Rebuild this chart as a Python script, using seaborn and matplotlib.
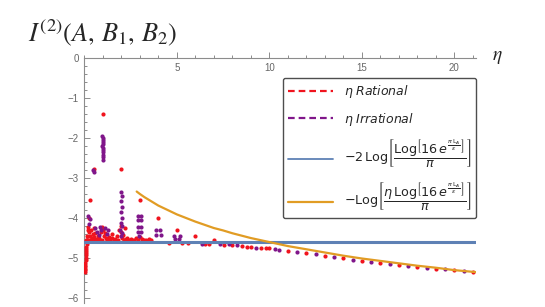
import numpy as np
import pandas as pd
import matplotlib
matplotlib.use("Agg")
import matplotlib.pyplot as plt
import seaborn as sns
from matplotlib.lines import Line2D
from matplotlib.ticker import MultipleLocator

# ---------------- data ----------------
rational_eta = [
    1.0, 0.5, 2.0, 0.33, 3.0, 0.25, 4.0, 0.2, 5.0, 0.167, 6.0, 0.143, 7.0,
    0.125, 0.111, 0.1, 0.091, 0.083, 0.077, 0.071, 0.067, 0.0625, 0.059, 0.056, 0.053, 0.05, 0.048,
    0.2, 0.25, 0.3, 0.35, 0.4, 0.45, 0.5, 0.55, 0.6, 0.67, 0.75, 0.8, 0.9, 0.95, 1.0, 1.05,
    1.1, 1.15, 1.25, 1.33, 1.5, 1.5, 1.67, 1.75, 1.9, 2.0, 2.0, 2.05, 2.1, 2.2, 2.25, 2.33,
    2.5, 2.67, 2.8, 3.0, 3.1, 3.33, 3.5,
    0.08, 0.15, 0.22, 0.3, 0.38, 0.45, 0.55, 0.62, 0.7, 0.85, 0.95, 1.2, 1.4, 1.6, 1.8,
    2.15, 2.4, 2.6, 2.9, 3.2, 3.6,
    4.6, 5.3, 5.6, 6.5, 6.75, 7.56, 8.0, 8.5, 8.8, 9.0, 9.55, 9.8, 10.0,
    11.0, 12.0, 13.0, 14.0, 15.0, 16.0, 17.0, 18.0, 19.0, 20.0, 21.0,
]
rational_val = [
    -1.40, -2.78, -2.78, -3.55, -3.55, -4.00, -4.00, -4.29, -4.29, -4.45, -4.45, -4.56, -4.56,
    -4.66, -4.72, -4.77, -4.82, -4.87, -4.92, -4.99, -5.05, -5.11, -5.17, -5.22, -5.26, -5.30, -5.34,
    -4.22, -4.35, -4.45, -4.30, -4.50, -4.40, -4.25, -4.48, -4.38, -4.52, -4.45, -4.50, -4.35, -4.22, -4.30, -4.45,
    -4.38, -4.50, -4.52, -4.48, -4.40, -4.50, -4.52, -4.45, -4.30, -4.20, -4.35, -4.50, -4.42, -4.25, -4.52, -4.50,
    -4.52, -4.54, -4.50, -4.47, -4.52, -4.54, -4.53,
    -4.55, -4.55, -4.55, -4.55, -4.55, -4.55, -4.55, -4.55, -4.55, -4.55, -4.55, -4.55, -4.55, -4.55, -4.55,
    -4.55, -4.55, -4.55, -4.55, -4.55, -4.56,
    -4.62, -4.62, -4.62, -4.64, -4.64, -4.67, -4.67, -4.71, -4.72, -4.72, -4.75, -4.76, -4.76,
    -4.82, -4.88, -4.94, -4.99, -5.07, -5.13, -5.17, -5.22, -5.26, -5.30, -5.34,
]
irrational_eta = [
    0.98, 1.0, 1.02, 0.99, 1.01, 0.98, 1.02, 1.0, 0.99, 1.01, 1.0, 1.02,
    0.47, 0.52,
    1.96, 2.02, 1.96, 2.02, 1.96, 2.02, 1.96, 2.02, 1.95, 2.05, 2.0,
    0.22, 0.3, 0.27,
    0.6, 0.7, 0.85, 0.9, 1.1, 1.2, 0.8, 1.3,
    2.88, 3.08, 2.88, 3.08, 2.88, 3.08, 2.88, 3.08, 2.95,
    3.88, 4.1, 3.9, 4.12,
    4.85, 5.15, 4.9, 5.1,
    6.35, 7.33, 7.82, 8.24, 9.28, 10.3, 10.5,
    11.5, 12.5, 13.5, 14.5, 15.5, 16.5, 17.5, 18.5, 19.5, 20.5,
]
irrational_val = [
    -1.95, -2.00, -2.05, -2.10, -2.15, -2.20, -2.25, -2.30, -2.36, -2.42, -2.48, -2.56,
    -2.80, -2.86,
    -3.34, -3.45, -3.58, -3.73, -3.85, -4.00, -4.12, -4.19, -4.30, -4.38, -4.45,
    -3.95, -4.03, -4.15,
    -4.25, -4.35, -4.22, -4.30, -4.25, -4.40, -4.42, -4.30,
    -3.94, -3.94, -4.06, -4.06, -4.23, -4.23, -4.35, -4.35, -4.45,
    -4.31, -4.31, -4.42, -4.42,
    -4.44, -4.44, -4.52, -4.52,
    -4.64, -4.65, -4.66, -4.67, -4.74, -4.78, -4.80,
    -4.86, -4.91, -4.98, -5.05, -5.10, -5.15, -5.19, -5.24, -5.28, -5.32,
]
blue_eta = [0.0, 21.17]
blue_val = [-4.60, -4.60]
orange_eta = [2.83, 3.0, 3.25, 3.5, 3.75, 4.0, 4.5, 5.0, 5.5, 6.0, 6.5, 7.0, 7.5, 8.0, 9.0,
              10.0, 11.0, 12.0, 13.0, 14.0, 15.0, 16.0, 17.0, 18.0, 19.0, 20.0, 21.17]
orange_val = [-3.34, -3.40, -3.48, -3.55, -3.62, -3.69, -3.80, -3.91, -4.00, -4.09, -4.17, -4.25,
              -4.31, -4.38, -4.50, -4.60, -4.70, -4.78, -4.86, -4.94, -5.01, -5.07, -5.13, -5.19,
              -5.24, -5.30, -5.35]
x_ticks = [5, 10, 15, 20]
y_ticks = [0, -1, -2, -3, -4, -5, -6]

RED = "#F0141E"
PURPLE = "#80168A"
BLUE = "#5E81B5"
ORANGE = "#E19C24"
GRAY = "#8C8C8C"

sns.set_theme(style="white")
plt.rcParams["font.family"] = ["Liberation Sans", "DejaVu Sans"]

fig = plt.figure(figsize=(5.45, 3.07), dpi=100)
ax = fig.add_axes([0.1547, 0.013, 0.7187, 0.7994])

df_r = pd.DataFrame({"eta": rational_eta, "val": rational_val})
df_i = pd.DataFrame({"eta": irrational_eta, "val": irrational_val})
sns.scatterplot(data=df_r, x="eta", y="val", color=RED, s=9, linewidth=0, ax=ax, zorder=3)
sns.scatterplot(data=df_i, x="eta", y="val", color=PURPLE, s=9, linewidth=0, ax=ax, zorder=3)
df_b = pd.DataFrame({"eta": blue_eta, "val": blue_val})
df_o = pd.DataFrame({"eta": orange_eta, "val": orange_val})
sns.lineplot(data=df_b, x="eta", y="val", color=BLUE, lw=2.2, ax=ax, zorder=4)
sns.lineplot(data=df_o, x="eta", y="val", color=ORANGE, lw=1.6, ax=ax, zorder=4)

ax.set_xlim(0, 21.17)
ax.set_ylim(-6.12, 0)
ax.set_xlabel("")
ax.set_ylabel("")
for s in ["bottom", "right"]:
    ax.spines[s].set_visible(False)
for s in ["top", "left"]:
    ax.spines[s].set_color(GRAY)
    ax.spines[s].set_linewidth(0.8)

ax.set_xticks(x_ticks)
ax.set_xticklabels([str(t) for t in x_ticks])
ax.xaxis.set_minor_locator(MultipleLocator(1))
ax.set_yticks(y_ticks)
ax.set_yticklabels(["0"] + ["\u2212%d" % (-t) for t in y_ticks[1:]])
ax.yaxis.set_minor_locator(MultipleLocator(0.2))
ax.tick_params(axis="x", which="both", top=True, bottom=False, labeltop=True,
               labelbottom=False, direction="out", color=GRAY, width=0.7,
               labelcolor="#666666", labelsize=7, pad=-15)
ax.tick_params(axis="x", which="major", length=4)
ax.tick_params(axis="x", which="minor", length=2.2)
ax.tick_params(axis="y", which="both", left=True, direction="in", color=GRAY,
               width=0.7, labelcolor="#666666", labelsize=7, pad=4)
ax.tick_params(axis="y", which="major", length=4)
ax.tick_params(axis="y", which="minor", length=2.2)
ax.grid(False)

# legend
blue_label = (r"$-2\,\mathrm{Log}\left[\dfrac{\mathrm{Log}\left[16\,e^{\frac{\pi\,\mathrm{L}_A}{\epsilon}}\right]}"
              r"{\pi}\right]$")
orange_label = (r"$-\mathrm{Log}\left[\dfrac{\eta\,\mathrm{Log}\left[16\,e^{\frac{\pi\,\mathrm{L}_A}{\epsilon}}\right]}"
                r"{\pi}\right]$")
handles = [
    Line2D([], [], color=RED, lw=1.6, ls=(0, (3, 1.8))),
    Line2D([], [], color=PURPLE, lw=1.6, ls=(0, (3, 1.8))),
    Line2D([], [], color=BLUE, lw=1.3),
    Line2D([], [], color=ORANGE, lw=1.6),
]
labels = [r"$\eta$ $\mathit{Rational}$", r"$\eta$ $\mathit{Irrational}$", blue_label, orange_label]
leg = ax.legend(handles, labels, loc="upper left", bbox_to_anchor=(0.507, 0.917),
                borderaxespad=0, frameon=True, fancybox=True, edgecolor="#222222",
                fontsize=9, handlelength=3.6, handletextpad=0.9, labelspacing=0.85,
                borderpad=0.4)
leg.get_frame().set_linewidth(1.0)
for i, t in enumerate(leg.get_texts()):
    t.set_math_fontfamily("dejavusans")
    if i >= 2:
        t.set_fontsize(9.2)

# axis label and title
fig.text(492 / 545, 1 - 58 / 307, r"$\eta$", fontsize=14, va="center", ha="left",
         math_fontfamily="stix")
fig.text(28 / 545, 1 - 33 / 307, r"$I^{(2)}(A,\,B_1,\,B_2)$", fontsize=19, va="center",
         ha="left", math_fontfamily="stix")

fig.savefig("out.png", dpi=100)
